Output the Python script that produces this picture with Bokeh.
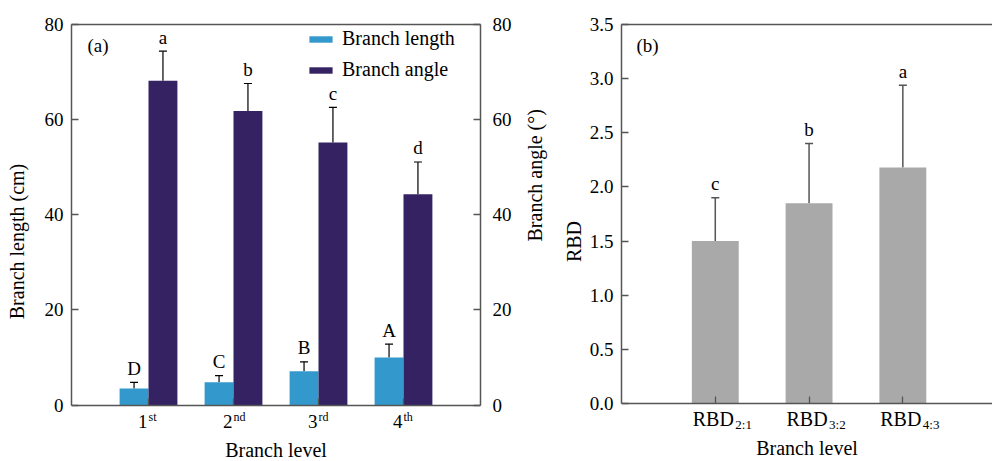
import math
from bokeh.plotting import figure
from bokeh.models import (ColumnDataSource, Range1d, LinearAxis, FixedTicker, Whisker,
                          TeeHead, Label, Legend, LegendItem, PrintfTickFormatter)
from bokeh.layouts import row
from bokeh.core.properties import value
from bokeh.embed import file_html
from bokeh.resources import INLINE

FONT = "Liberation Serif"

# ---------------- data ----------------
levels = [1, 2, 3, 4]
level_main = ["1", "2", "3", "4"]
level_sup = ["st", "nd", "rd", "th"]
length_mean = [3.5, 4.8, 7.1, 10.0]
length_sd = [1.3, 1.4, 2.0, 2.8]
length_letters = ["D", "C", "B", "A"]
angle_mean = [68.2, 61.8, 55.2, 44.3]
angle_sd = [6.2, 5.8, 7.4, 6.8]
angle_letters = ["a", "b", "c", "d"]

rbd_pos = [1, 2, 3]
rbd_main = ["RBD", "RBD", "RBD"]
rbd_sub = ["2:1", "3:2", "4:3"]
rbd_mean = [1.50, 1.85, 2.18]
rbd_sd = [0.40, 0.55, 0.76]
rbd_letters = ["c", "b", "a"]

C_LEN = "#3399cc"
C_ANG = "#342263"
C_RBD = "#a9a9a9"
AX = "#555555"

H = 461
BOTTOM_PAD = 3  # frame extends below the zero line so tick texts are drawn inside it


def style_axis(ax):
    ax.axis_line_color = AX
    ax.axis_line_width = 1.5
    ax.major_tick_line_color = AX
    ax.major_tick_line_width = 1.3
    ax.major_tick_in = 7
    ax.major_tick_out = 0
    ax.minor_tick_line_color = None
    ax.major_label_text_font = FONT
    ax.major_label_text_font_size = "19px"
    ax.major_label_text_color = "black"
    ax.axis_label_text_font = FONT
    ax.axis_label_text_font_size = "20px"
    ax.axis_label_text_font_style = "normal"
    ax.axis_label_text_color = "black"
    ax.major_label_standoff = 8


def line_only_axis(ax):
    ax.axis_line_color = AX
    ax.axis_line_width = 1.5
    ax.minor_tick_line_color = None
    ax.major_tick_line_color = None
    ax.major_label_text_font_size = "0px"


# ---------------- panel (a) ----------------
top1, zero1 = 19, 404                     # pixel rows of 80 and 0
ymax1 = 80
ymin1 = -ymax1 * (H - BOTTOM_PAD - zero1) / (zero1 - top1)

p1 = figure(width=559, height=H, x_range=Range1d(0.094, 4.906), y_range=Range1d(ymin1, ymax1),
            output_backend="svg", toolbar_location=None,
            min_border_left=71, min_border_right=79, min_border_top=top1,
            min_border_bottom=BOTTOM_PAD)
p1.extra_y_ranges = {"angle": Range1d(ymin1, ymax1)}
p1.grid.visible = False
p1.outline_line_color = None
p1.xaxis.visible = False

src_len = ColumnDataSource(dict(x=[v - 0.17 for v in levels], top=length_mean,
                                up=[m + s for m, s in zip(length_mean, length_sd)],
                                lab=length_letters))
src_ang = ColumnDataSource(dict(x=[v + 0.17 for v in levels], top=angle_mean,
                                up=[m + s for m, s in zip(angle_mean, angle_sd)],
                                lab=angle_letters))

r_len = p1.vbar(x="x", top="top", bottom=0, width=0.34, source=src_len, fill_color=C_LEN,
                line_color=None)
r_ang = p1.vbar(x="x", top="top", bottom=0, width=0.34, source=src_ang, fill_color=C_ANG,
                line_color=None, y_range_name="angle")

for src, rng in ((src_len, "default"), (src_ang, "angle")):
    w = Whisker(base="x", lower="top", upper="up", source=src, line_color="black", line_width=1.2,
                upper_head=TeeHead(size=8, line_color="black", line_width=1.2), lower_head=None,
                y_range_name=rng)
    p1.add_layout(w)

p1.text(x="x", y="up", text="lab", source=src_len, text_font=value(FONT), text_font_size="19px",
        text_align="center", text_baseline="alphabetic", y_offset=-14, text_color="black")
p1.text(x="x", y="up", text="lab", source=src_ang, text_font=value(FONT), text_font_size="19px",
        text_align="center", text_baseline="alphabetic", y_offset=-14, text_color="black",
        y_range_name="angle")

p1.yaxis.ticker = FixedTicker(ticks=[0, 20, 40, 60, 80])
p1.yaxis.bounds = (0, 80)
p1.yaxis.axis_label = "Branch length (cm)"
for ax in p1.yaxis:
    style_axis(ax)
    ax.axis_label_standoff = 14

ax_r = LinearAxis(y_range_name="angle", axis_label="Branch angle (°)", bounds=(0, 80),
                  ticker=FixedTicker(ticks=[0, 20, 40, 60, 80]))
p1.add_layout(ax_r, "right")
style_axis(ax_r)
ax_r.major_label_standoff = 12
ax_r.axis_label_standoff = 20
ax_r.axis_label_orientation = math.pi / 2

ax_b1 = LinearAxis(ticker=FixedTicker(ticks=levels), fixed_location=0,
                   axis_label="Branch level")
ax_b1.major_label_overrides = {v: "" for v in levels}
p1.add_layout(ax_b1, "below")
style_axis(ax_b1)
ax_b1.axis_label_standoff = 33

ax_t1 = LinearAxis(ticker=FixedTicker(ticks=[]))
p1.add_layout(ax_t1, "above")
line_only_axis(ax_t1)

for xv, m, s in zip(levels, level_main, level_sup):
    p1.add_layout(Label(x=xv, y=0, x_offset=-1, y_offset=-16, text=m, text_font=FONT,
                        text_font_size="19px", text_align="right", text_baseline="alphabetic",
                        text_color="black"))
    p1.add_layout(Label(x=xv, y=0, x_offset=0, y_offset=-12, text=s, text_font=FONT,
                        text_font_size="12px", text_align="left", text_baseline="alphabetic",
                        text_color="black"))

p1.add_layout(Label(x=0.094, y=80, x_offset=16, y_offset=-31, text="(a)", text_font=FONT,
                    text_font_size="19px", text_color="black"))

legend = Legend(items=[LegendItem(label="Branch length", renderers=[r_len]),
                       LegendItem(label="Branch angle", renderers=[r_ang])],
                location=(235, 323 + (H - BOTTOM_PAD - zero1)), orientation="vertical")
legend.background_fill_alpha = 0
legend.border_line_color = None
legend.padding = 0
legend.margin = 0
legend.spacing = 8
legend.glyph_width = 29
legend.glyph_height = 8
legend.label_height = 22
legend.label_standoff = 7
legend.label_text_font = FONT
legend.label_text_font_size = "20px"
legend.label_text_color = "black"
p1.add_layout(legend)

# ---------------- panel (b) ----------------
top2, zero2 = 24, 403
ymax2 = 3.5
ymin2 = -ymax2 * (H - BOTTOM_PAD - zero2) / (zero2 - top2)

p2 = figure(width=433, height=H, x_range=Range1d(0, 3.956), y_range=Range1d(ymin2, ymax2),
            output_backend="svg", toolbar_location=None,
            min_border_left=56, min_border_right=0, min_border_top=top2,
            min_border_bottom=BOTTOM_PAD)
p2.grid.visible = False
p2.outline_line_color = None
p2.xaxis.visible = False

src_rbd = ColumnDataSource(dict(x=rbd_pos, top=rbd_mean,
                                up=[m + s for m, s in zip(rbd_mean, rbd_sd)],
                                lab=rbd_letters))
p2.vbar(x="x", top="top", bottom=0, width=0.5, source=src_rbd, fill_color=C_RBD, line_color=None)
p2.add_layout(Whisker(base="x", lower="top", upper="up", source=src_rbd, line_color=AX,
                      line_width=1.5, upper_head=TeeHead(size=8, line_color=AX, line_width=1.5),
                      lower_head=None))
p2.text(x="x", y="up", text="lab", source=src_rbd, text_font=value(FONT), text_font_size="19px",
        text_align="center", text_baseline="alphabetic", y_offset=-14, text_color="black")

p2.yaxis.ticker = FixedTicker(ticks=[0, 0.5, 1.0, 1.5, 2.0, 2.5, 3.0, 3.5])
p2.yaxis.formatter = PrintfTickFormatter(format="%.1f")
p2.yaxis.bounds = (0, 3.5)
p2.yaxis.axis_label = "RBD"
for ax in p2.yaxis:
    style_axis(ax)
    ax.axis_label_standoff = 2

ax_b2 = LinearAxis(ticker=FixedTicker(ticks=rbd_pos), fixed_location=0,
                   axis_label="Branch level")
ax_b2.major_label_overrides = {v: "" for v in rbd_pos}
p2.add_layout(ax_b2, "below")
style_axis(ax_b2)
ax_b2.axis_label_standoff = 33

ax_t2 = LinearAxis(ticker=FixedTicker(ticks=[]))
p2.add_layout(ax_t2, "above")
line_only_axis(ax_t2)

for xv, m, s in zip(rbd_pos, rbd_main, rbd_sub):
    p2.add_layout(Label(x=xv, y=0, x_offset=-2, y_offset=-15, text=m, text_font=FONT,
                        text_font_size="20px", text_align="center", text_baseline="alphabetic",
                        text_color="black"))
    p2.add_layout(Label(x=xv, y=0, x_offset=20, y_offset=-21, text=s, text_font=FONT,
                        text_font_size="13px", text_align="left", text_baseline="alphabetic",
                        text_color="black"))
p2.add_layout(Label(x=0, y=3.5, x_offset=15, y_offset=-31, text="(b)", text_font=FONT,
                    text_font_size="19px", text_color="black"))

layout = row(p1, p2)
open("out.html", "w").write(file_html(layout, INLINE))
